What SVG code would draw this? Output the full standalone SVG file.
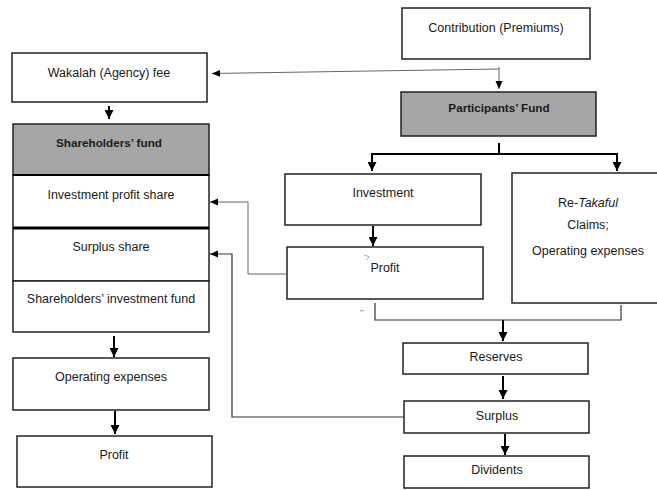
<svg xmlns="http://www.w3.org/2000/svg" width="657" height="490" viewBox="0 0 657 490">
<defs>
<marker id="ah" markerUnits="userSpaceOnUse" markerWidth="9" markerHeight="9" viewBox="0 0 9 9" refX="9" refY="4.5" orient="auto"><path d="M0,0 L9,4.5 L0,9 Z" fill="#000"/></marker>
<marker id="ahs" markerUnits="userSpaceOnUse" markerWidth="8" markerHeight="8" viewBox="0 0 8 8" refX="8" refY="4" orient="auto"><path d="M0,0.5 L8,4 L0,7.5 Z" fill="#000"/></marker>
</defs>
<style>
text{font-family:"Liberation Sans",Arial,sans-serif;font-size:12.5px;fill:#1a1a1a;text-anchor:middle}
.b{font-weight:bold;font-size:11.7px}
.box{fill:#fff;stroke:#222;stroke-width:1.5}
.gray{fill:#a6a6a6;stroke:#222;stroke-width:1.5}
.thick{fill:none;stroke:#000;stroke-width:2}
.thin{fill:none;stroke:#666;stroke-width:1}
.med{fill:none;stroke:#333;stroke-width:1.2}
</style>
<rect width="657" height="490" fill="#fff"/>
<g id="contribution"><rect class="box" x="402" y="8" width="188" height="51"/><text x="496" y="32">Contribution (Premiums)</text></g>
<g id="wakalah"><rect class="box" x="12" y="53" width="195" height="49"/><text x="109" y="77">Wakalah (Agency) fee</text></g>
<g id="participants"><rect class="gray" x="401" y="92" width="195" height="44"/><text class="b" x="499" y="112">Participants’ Fund</text></g>
<g id="shareholders">
<rect class="gray" x="13" y="124" width="196" height="51"/><text class="b" x="109" y="147">Shareholders’ fund</text>
<rect class="box" x="13" y="175" width="196" height="53"/><text x="111" y="199">Investment profit share</text>
<rect class="box" x="13" y="228" width="196" height="53"/><text x="111" y="251">Surplus share</text>
<rect class="box" x="13" y="281" width="196" height="51"/><text x="111" y="303">Shareholders’ investment fund</text>
<line x1="13" y1="228" x2="209" y2="228" stroke="#000" stroke-width="3"/>
<line x1="13" y1="175" x2="209" y2="175" stroke="#000" stroke-width="2"/>
</g>
<g id="investment"><rect class="box" x="285" y="174" width="196" height="51"/><text x="383" y="197">Investment</text></g>
<g id="profit-mid"><rect class="box" x="287" y="247" width="196" height="52"/><text x="385" y="272">Profit</text></g>
<g id="retakaful"><rect class="box" x="512" y="173" width="160" height="130"/><text x="588" y="207">Re-<tspan font-style="italic">Takaful</tspan></text><text x="588" y="229">Claims;</text><text x="588" y="255">Operating expenses</text></g>
<g id="opexp"><rect class="box" x="13" y="358" width="196" height="52"/><text x="111" y="381">Operating expenses</text></g>
<g id="profit-left"><rect class="box" x="17" y="436" width="195" height="51"/><text x="114" y="459">Profit</text></g>
<g id="reserves"><rect class="box" x="403" y="343" width="185" height="31"/><text x="496" y="361">Reserves</text></g>
<g id="surplus"><rect class="box" x="404" y="401" width="185" height="32"/><text x="497" y="420">Surplus</text></g>
<g id="dividents"><rect class="box" x="404" y="456" width="185" height="32"/><text x="497" y="474">Dividents</text></g>
<g id="connectors">
<path class="thin" d="M499,67 L499,89" marker-end="url(#ahs)"/>
<path class="thin" d="M499,69 L212,73.5" marker-end="url(#ahs)"/>
<path class="thick" d="M109,106 L109,119" marker-end="url(#ah)"/>
<path class="thick" d="M499,143 L499,154 M372,154 L617,154"/>
<path class="thick" d="M372,153 L372,171" marker-end="url(#ah)"/>
<path class="thick" d="M617,153 L617,171" marker-end="url(#ah)"/>
<path class="thick" d="M373,226 L373,246" marker-end="url(#ah)"/>
<path class="thin" d="M287,274 L248,274 L248,202 L210,202" marker-end="url(#ahs)"/>
<path class="med" d="M375,303 L375,320 L621,320 L621,305"/>
<path class="thick" d="M503,320 L503,341" marker-end="url(#ah)"/>
<path class="thick" d="M503,376 L503,399" marker-end="url(#ah)"/>
<path class="thick" d="M505,434 L505,455" marker-end="url(#ah)"/>
<path class="med" d="M404,417 L232,417 L232,254 L210,254" marker-end="url(#ahs)"/>
<path class="thick" d="M114,336 L114,357" marker-end="url(#ah)"/>
<path class="thick" d="M115,411 L115,434" marker-end="url(#ah)"/>
</g>
<path d="M364,255 L369,256.5 L367,260" fill="none" stroke="#6fa8dc" stroke-width="0.8"/>
<path d="M360,311 L364,310.5" fill="none" stroke="#6fa8dc" stroke-width="1"/>
</svg>
